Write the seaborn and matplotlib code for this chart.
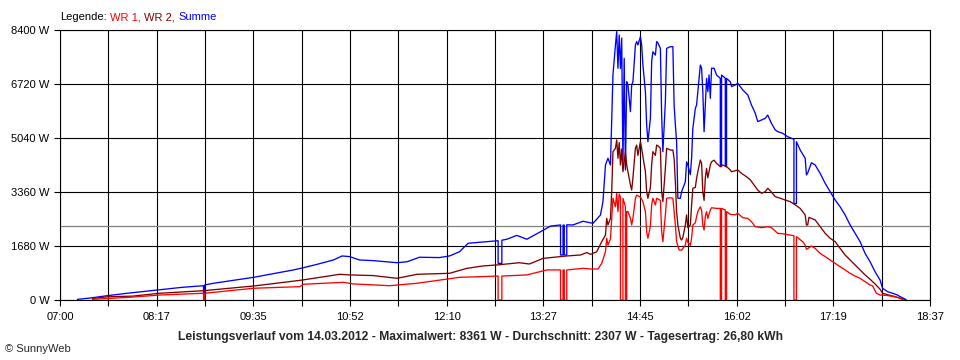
import numpy as np
import pandas as pd
import matplotlib
matplotlib.use("Agg")
import matplotlib.pyplot as plt
import seaborn as sns

# values: (time, watts)
summe = [
    ("07:14", 20), ("07:26", 70), ("07:38", 135), ("07:54", 210), ("08:18", 310), ("08:38", 395),
    ("08:54", 445), ("08:55", 445), ("08:55", 220), ("08:56", 220), ("08:56", 470), ("09:03", 520),
    ("09:35", 705), ("10:07", 935), ("10:15", 1005), ("10:26", 1110), ("10:39", 1245), ("10:46", 1370),
    ("10:52", 1350), ("11:00", 1245), ("11:11", 1225), ("11:30", 1160), ("11:38", 1190), ("11:48", 1330),
    ("12:04", 1320), ("12:12", 1370), ("12:20", 1500), ("12:27", 1765), ("12:36", 1795), ("12:51", 1845),
    ("12:51", 1140), ("12:54", 1140), ("12:54", 1860), ("12:58", 1890), ("13:06", 2010), ("13:14", 1890),
    ("13:25", 2125), ("13:33", 2300), ("13:41", 2335), ("13:41", 1400), ("13:43", 1400), ("13:43", 2330),
    ("13:44", 2330), ("13:44", 1400), ("13:46", 1400), ("13:46", 2340), ("13:51", 2335), ("13:59", 2450),
    ("14:07", 2385), ("14:13", 2645), ("14:15", 3060), ("14:17", 4200), ("14:19", 4410), ("14:21", 4200),
    ("14:23", 7000), ("14:25", 7935), ("14:26", 8350), ("14:27", 7210), ("14:28", 8245), ("14:29", 7200),
    ("14:30", 8150), ("14:31", 4200), ("14:32", 7520), ("14:33", 4045), ("14:34", 6790), ("14:35", 6690),
    ("14:37", 5860), ("14:38", 6690), ("14:39", 6790), ("14:41", 7935), ("14:42", 8040), ("14:43", 7935),
    ("14:45", 8190), ("14:46", 7935), ("14:47", 7310), ("14:49", 6480), ("14:50", 5445), ("14:51", 4925),
    ("14:53", 5650), ("14:54", 7415), ("14:55", 7725), ("14:57", 7620), ("14:58", 8040), ("14:59", 8000),
    ("15:01", 7830), ("15:02", 5755), ("15:03", 4615), ("15:05", 6170), ("15:06", 7830), ("15:09", 7880),
    ("15:11", 7880), ("15:12", 6065), ("15:13", 5445), ("15:14", 4925), ("15:15", 3165), ("15:17", 3165),
    ("15:18", 3370), ("15:21", 3680), ("15:22", 4300), ("15:23", 4200), ("15:25", 3900), ("15:26", 4410),
    ("15:27", 5340), ("15:29", 5960), ("15:30", 6065), ("15:31", 6480), ("15:33", 7310), ("15:34", 7210),
    ("15:35", 6480), ("15:36", 5235), ("15:37", 6065), ("15:38", 6895), ("15:39", 6480), ("15:40", 7000),
    ("15:41", 6275), ("15:42", 7210), ("15:44", 7210), ("15:46", 7000), ("15:49", 6895), ("15:49", 4150),
    ("15:50", 4150), ("15:50", 7000), ("15:53", 6900), ("15:53", 4150), ("15:54", 4150), ("15:54", 6895),
    ("15:57", 6790), ("15:58", 6640), ("16:01", 6690), ("16:03", 6740), ("16:05", 6640), ("16:07", 6535),
    ("16:11", 6380), ("16:14", 6065), ("16:17", 5810), ("16:19", 5550), ("16:22", 5600), ("16:25", 5650),
    ("16:27", 5755), ("16:30", 5495), ("16:33", 5290), ("16:35", 5240), ("16:39", 5185), ("16:43", 5080),
    ("16:48", 5000), ("16:48", 3000), ("16:50", 3000), ("16:50", 4925), ("16:53", 4665), ("16:57", 4410),
    ("16:58", 3890), ("16:59", 3950), ("17:02", 4270), ("17:05", 4200), ("17:09", 3940), ("17:13", 3630),
    ("17:17", 3370), ("17:21", 3110), ("17:25", 2900), ("17:29", 2645), ("17:33", 2335), ("17:37", 2075),
    ("17:41", 1815), ("17:45", 1450), ("17:49", 1190), ("17:53", 880), ("17:57", 620), ("17:59", 365),
    ("18:03", 260), ("18:07", 210), ("18:11", 155), ("18:13", 105), ("18:17", 30), ("18:18", 0),
]

wr2 = [
    ("07:26", 50), ("07:38", 100), ("07:58", 120), ("08:20", 210), ("08:55", 290), ("09:35", 435),
    ("10:14", 620), ("10:44", 800), ("10:52", 780), ("11:11", 760), ("11:30", 675), ("11:46", 800),
    ("12:12", 830), ("12:26", 985), ("12:39", 1060), ("12:50", 1090), ("13:08", 1160), ("13:16", 1120),
    ("13:27", 1295), ("13:46", 1370), ("13:57", 1400), ("14:02", 1475), ("14:05", 1420), ("14:10", 1500),
    ("14:14", 1815), ("14:17", 2020), ("14:18", 2540), ("14:19", 2335), ("14:21", 2540), ("14:22", 3370),
    ("14:23", 4615), ("14:25", 4720), ("14:26", 4980), ("14:27", 4410), ("14:28", 4900), ("14:29", 4200),
    ("14:30", 4700), ("14:31", 3990), ("14:33", 4600), ("14:34", 4200), ("14:35", 3990), ("14:37", 3580),
    ("14:38", 3420), ("14:39", 3800), ("14:41", 4720), ("14:42", 4820), ("14:43", 4500), ("14:45", 4925),
    ("14:46", 4720), ("14:47", 4460), ("14:49", 3990), ("14:50", 3370), ("14:51", 3165), ("14:53", 3500),
    ("14:54", 4200), ("14:55", 4615), ("14:57", 4500), ("14:58", 4820), ("14:59", 4800), ("15:01", 4720),
    ("15:02", 3370), ("15:03", 3060), ("15:05", 4095), ("15:06", 4720), ("15:09", 4665), ("15:11", 4665),
    ("15:12", 4400), ("15:13", 3680), ("15:14", 2750), ("15:15", 2335), ("15:17", 1920), ("15:18", 1865),
    ("15:19", 1950), ("15:21", 2335), ("15:22", 2645), ("15:23", 2250), ("15:25", 2335), ("15:26", 2955),
    ("15:27", 3475), ("15:29", 3500), ("15:30", 3785), ("15:31", 3990), ("15:33", 4355), ("15:34", 4250),
    ("15:35", 3370), ("15:36", 3100), ("15:37", 3800), ("15:38", 4095), ("15:39", 3800), ("15:41", 4200),
    ("15:42", 4300), ("15:44", 4350), ("15:46", 4250), ("15:49", 4150), ("15:51", 4200), ("15:54", 4150),
    ("15:57", 4045), ("15:58", 3990), ("16:03", 4045), ("16:06", 3940), ("16:10", 3835), ("16:13", 3740),
    ("16:16", 3580), ("16:19", 3420), ("16:22", 3320), ("16:25", 3370), ("16:27", 3475), ("16:29", 3400),
    ("16:33", 3215), ("16:37", 3165), ("16:41", 3110), ("16:45", 3060), ("16:48", 2985), ("16:53", 2850),
    ("16:57", 2645), ("16:58", 2335), ("16:59", 2335), ("17:00", 2570), ("17:05", 2490), ("17:09", 2280),
    ("17:13", 2075), ("17:17", 1920), ("17:21", 1815), ("17:25", 1605), ("17:29", 1400), ("17:33", 1245),
    ("17:37", 1090), ("17:41", 935), ("17:45", 780), ("17:49", 645), ("17:53", 500), ("17:57", 335),
    ("17:59", 210), ("18:04", 155), ("18:09", 105), ("18:13", 55), ("18:16", 20), ("18:17", 0),
]

wr1 = [
    ("07:26", 20), ("07:56", 85), ("08:20", 155), ("08:55", 210), ("08:55", 0), ("08:56", 0),
    ("08:56", 210), ("09:35", 365), ("10:12", 415), ("10:15", 490), ("10:47", 550), ("10:55", 500),
    ("11:24", 445), ("11:46", 520), ("12:20", 705), ("12:51", 745), ("12:51", 0), ("12:54", 0),
    ("12:54", 745), ("13:14", 780), ("13:30", 935), ("13:41", 935), ("13:41", 0), ("13:43", 0),
    ("13:43", 935), ("13:44", 935), ("13:44", 0), ("13:46", 0), ("13:46", 935), ("13:59", 985),
    ("14:05", 965), ("14:11", 965), ("14:14", 1140), ("14:17", 1500), ("14:18", 1920), ("14:19", 1710),
    ("14:21", 1900), ("14:22", 2540), ("14:23", 3165), ("14:25", 2900), ("14:26", 3320), ("14:27", 2750),
    ("14:28", 3300), ("14:29", 3200), ("14:29", 0), ("14:31", 0), ("14:31", 3165), ("14:33", 2900),
    ("14:33", 0), ("14:34", 0), ("14:34", 2750), ("14:35", 2750), ("14:37", 2540), ("14:38", 2335),
    ("14:39", 2540), ("14:41", 3165), ("14:42", 3265), ("14:45", 3200), ("14:47", 3060), ("14:49", 2750),
    ("14:50", 2125), ("14:51", 1920), ("14:53", 2300), ("14:54", 2955), ("14:55", 3165), ("14:57", 2955),
    ("14:58", 3165), ("15:01", 3100), ("15:02", 2125), ("15:03", 1815), ("15:05", 2645), ("15:06", 3165),
    ("15:09", 3180), ("15:11", 3165), ("15:12", 2750), ("15:13", 2335), ("15:14", 1815), ("15:16", 1555),
    ("15:18", 1550), ("15:21", 1710), ("15:22", 1920), ("15:23", 1800), ("15:25", 1700), ("15:26", 1920),
    ("15:27", 2335), ("15:29", 2400), ("15:30", 2590), ("15:31", 2750), ("15:33", 2900), ("15:34", 2800),
    ("15:35", 2335), ("15:36", 2180), ("15:37", 2600), ("15:38", 2750), ("15:39", 2540), ("15:41", 2800),
    ("15:42", 2870), ("15:46", 2850), ("15:49", 2850), ("15:49", 0), ("15:50", 0), ("15:50", 2850),
    ("15:53", 2800), ("15:53", 0), ("15:54", 0), ("15:54", 2750), ("15:57", 2665), ("16:01", 2650),
    ("16:03", 2700), ("16:07", 2560), ("16:11", 2540), ("16:14", 2435), ("16:17", 2280), ("16:22", 2250),
    ("16:27", 2280), ("16:30", 2250), ("16:35", 2075), ("16:39", 2060), ("16:45", 2020), ("16:48", 2000),
    ("16:48", 0), ("16:50", 0), ("16:50", 1970), ("16:55", 1815), ("16:57", 1710), ("16:58", 1575),
    ("16:59", 1600), ("17:02", 1680), ("17:05", 1605), ("17:09", 1450), ("17:13", 1350), ("17:17", 1245),
    ("17:21", 1140), ("17:25", 1035), ("17:29", 935), ("17:33", 830), ("17:37", 745), ("17:41", 675),
    ("17:45", 570), ("17:49", 465), ("17:51", 440), ("17:54", 210), ("17:57", 155), ("18:03", 140),
    ("18:08", 105), ("18:12", 70), ("18:15", 20), ("18:16", 0),
]

avg_w = 2307
max_w = 8361
day_kwh = "26,80"
day = "14.03.2012"
x_tick_labels = ["07:00", "08:17", "09:35", "10:52", "12:10", "13:27", "14:45", "16:02", "17:19", "18:37"]
y_ticks = [0, 1680, 3360, 5040, 6720, 8400]

RED = "#ff0000"
DARK = "#800000"
BLUE = "#0000ff"


def to_min(t):
    h, m = t.split(":")
    return int(h) * 60 + int(m)


sns.set_style("white")
plt.rcParams["font.family"] = ["Liberation Sans", "DejaVu Sans"]

fig = plt.figure(figsize=(9.6, 3.6), dpi=100)
ax = fig.add_axes([60 / 960, 60 / 360, 870 / 960, 270 / 360])

# draw sum first so the inverters sit on top
for rows, c in [(summe, BLUE), (wr2, DARK), (wr1, RED)]:
    df = pd.DataFrame(rows, columns=["time", "W"])
    df["minute"] = df["time"].map(to_min)
    sns.lineplot(data=df, x="minute", y="W", ax=ax, color=c, lw=0.95,
                 estimator=None, sort=False, zorder=3)

ax.axhline(avg_w, color="#808080", lw=0.9, zorder=2)

x0, x1 = to_min(x_tick_labels[0]), to_min(x_tick_labels[-1])
ax.set_xlim(x0, x1)
ax.set_ylim(0, y_ticks[-1])
major = np.linspace(x0, x1, len(x_tick_labels))
minor = (major[:-1] + major[1:]) / 2
ax.set_xticks(major)
ax.set_xticklabels(x_tick_labels)
ax.set_xticks(minor, minor=True)
ax.set_yticks(y_ticks)
ax.set_yticklabels([f"{v} W" for v in y_ticks])
ax.set_xlabel("")
ax.set_ylabel("")

ax.grid(which="both", axis="x", color="black", lw=0.8)
ax.grid(which="major", axis="y", color="black", lw=0.8)
ax.set_axisbelow(True)
for s in ax.spines.values():
    s.set_color("black")
    s.set_linewidth(0.8)

ax.tick_params(axis="both", which="both", direction="out", color="black", width=0.8,
               bottom=True, left=True, labelsize=8, labelcolor="black")
ax.tick_params(axis="x", which="both", length=4, pad=5)
ax.tick_params(axis="y", length=4.5, pad=3)

# legend line at the top, coloured pieces
prev = fig.text(60 / 960, 1 - 17 / 360, "Legende:", color="black", fontsize=8, va="center")
for s, c in [("WR 1,", RED), ("WR 2,", DARK), ("Summe", BLUE)]:
    prev = ax.annotate(s, xy=(1, 0), xycoords=prev, xytext=(2.4, 0), textcoords="offset points",
                       va="bottom", ha="left", color=c, fontsize=8)

title = (f"Leistungsverlauf vom {day} - Maximalwert: {max_w} W - "
         f"Durchschnitt: {avg_w} W - Tagesertrag: {day_kwh} kWh")
fig.text(0.5, 1 - 337 / 360, title, ha="center", va="center", fontsize=8.75, fontweight="bold")
fig.text(5 / 960, 1 - 349 / 360, "© SunnyWeb", ha="left", va="center", fontsize=8)

fig.savefig("out.png", dpi=100)
